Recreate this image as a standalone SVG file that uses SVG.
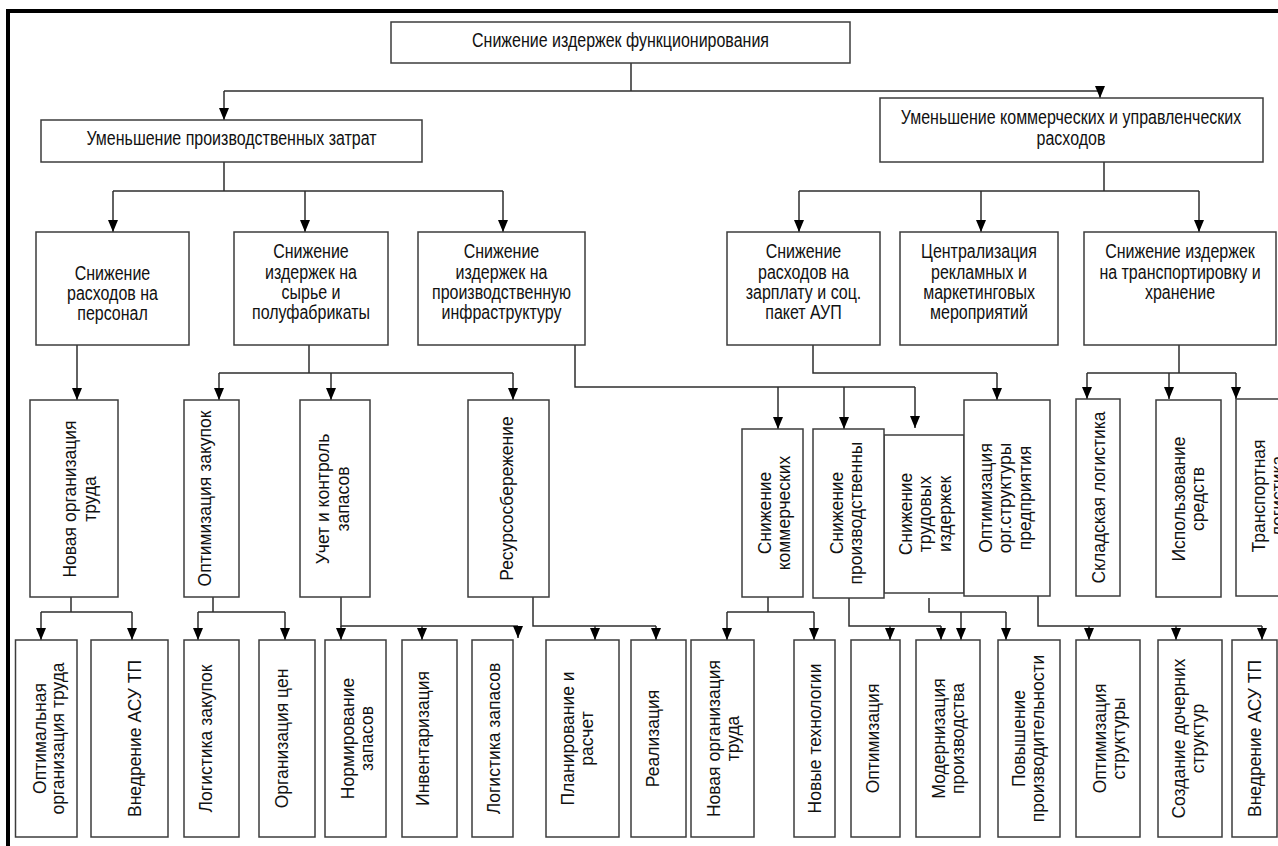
<svg xmlns="http://www.w3.org/2000/svg" width="1278" height="846" viewBox="0 0 1278 846">
  <style>
    .box { fill: #ffffff; stroke: #3c3c3c; stroke-width: 1.5; }
    .wire { fill: none; stroke: #2e2e2e; stroke-width: 1.5; }
    .arr { fill: none; stroke: #2e2e2e; stroke-width: 1.5; marker-end: url(#tip); }
    .h { font-family: "Liberation Sans", Arial, sans-serif; font-size: 19.5px; fill: #111111; text-anchor: middle; }
    .v { font-family: "Liberation Sans", Arial, sans-serif; font-size: 17.5px; fill: #111111; text-anchor: middle; }
  </style>
  <defs>
    <marker id="tip" viewBox="0 0 12 10" refX="12" refY="5" markerWidth="12" markerHeight="10" markerUnits="userSpaceOnUse" orient="auto">
      <path d="M0,0 L12,5 L0,10 Z" fill="#000000"/>
    </marker>
  </defs>
  <rect width="1278" height="846" fill="#ffffff"/>
  <!-- outer frame (top and left edges) -->
  <path d="M8,846 V11 H1278" fill="none" stroke="#000000" stroke-width="4"/>

  <g id="connectors">
    <!-- root to level 1 -->
    <path class="wire" d="M631,63 V91 M224,91 H1100"/>
    <path class="arr" d="M224,91 V120"/>
    <path class="arr" d="M1100,91 V98"/>
    <!-- production costs branch -->
    <path class="wire" d="M224,162 V191 M113,191 H503"/>
    <path class="arr" d="M113,191 V232"/>
    <path class="arr" d="M305,191 V232"/>
    <path class="arr" d="M503,191 V232"/>
    <!-- commercial costs branch -->
    <path class="wire" d="M1104,162 V191 M799,191 H1199"/>
    <path class="arr" d="M799,191 V232"/>
    <path class="arr" d="M981,191 V232"/>
    <path class="arr" d="M1199,191 V232"/>
    <!-- level 2 to level 3 -->
    <path class="arr" d="M77,345 V400"/>
    <path class="wire" d="M309,345 V373 M219,373 H513"/>
    <path class="arr" d="M219,373 V400"/>
    <path class="arr" d="M331,373 V400"/>
    <path class="arr" d="M513,373 V400"/>
    <path class="wire" d="M575,345 V387 H915"/>
    <path class="arr" d="M778,387 V429"/>
    <path class="arr" d="M844,387 V429"/>
    <path class="arr" d="M915,387 V428"/>
    <path class="wire" d="M813,345 V373 H997"/>
    <path class="arr" d="M997,373 V400"/>
    <path class="wire" d="M1179,345 V373 M1087,373 H1236"/>
    <path class="arr" d="M1087,373 V399"/>
    <path class="arr" d="M1169,373 V399"/>
    <path class="arr" d="M1236,373 V399"/>
    <!-- level 3 to level 4 -->
    <path class="wire" d="M71,597 V612 M41,612 H132"/>
    <path class="arr" d="M41,612 V640"/>
    <path class="arr" d="M132,612 V640"/>
    <path class="wire" d="M213,597 V612 M198,612 H285"/>
    <path class="arr" d="M198,612 V640"/>
    <path class="arr" d="M285,612 V640"/>
    <path class="wire" d="M341,597 V626 H518"/>
    <path class="arr" d="M341,626 V640"/>
    <path class="arr" d="M422,626 V640"/>
    <path class="arr" d="M518,626 V638"/>
    <path class="wire" d="M533,597 V626 H656"/>
    <path class="arr" d="M595,626 V640"/>
    <path class="arr" d="M656,626 V640"/>
    <path class="wire" d="M768,597 V612 M727,612 H814"/>
    <path class="arr" d="M727,612 V640"/>
    <path class="arr" d="M814,612 V640"/>
    <path class="wire" d="M849,598 V626 H941"/>
    <path class="arr" d="M890,626 V640"/>
    <path class="arr" d="M941,626 V640"/>
    <path class="wire" d="M929,598 V612 H1006"/>
    <path class="arr" d="M961,612 V640"/>
    <path class="arr" d="M1006,612 V640"/>
    <path class="wire" d="M1038,596 V626 H1262"/>
    <path class="arr" d="M1089,626 V640"/>
    <path class="arr" d="M1176,626 V640"/>
    <path class="arr" d="M1262,626 V640"/>
  </g>

  <!-- level 0 -->
  <g id="n-root">
    <rect class="box" x="391" y="22" width="459" height="41"/>
    <text class="h" transform="translate(620.5 0) scale(0.82 1)"><tspan x="0" y="47.5">Снижение издержек функционирования</tspan></text>
  </g>

  <!-- level 1 -->
  <g id="n-production">
    <rect class="box" x="41" y="120" width="381" height="42"/>
    <text class="h" transform="translate(231.5 0) scale(0.82 1)"><tspan x="0" y="145.5">Уменьшение производственных затрат</tspan></text>
  </g>
  <g id="n-commercial">
    <rect class="box" x="880" y="98" width="383" height="64"/>
    <text class="h" transform="translate(1071 0) scale(0.82 1)"><tspan x="0" y="124">Уменьшение коммерческих и управленческих</tspan><tspan x="0" y="145">расходов</tspan></text>
  </g>

  <!-- level 2 -->
  <g id="n-staff">
    <rect class="box" x="36" y="232" width="153" height="113"/>
    <text class="h" transform="translate(112.5 0) scale(0.82 1)"><tspan x="0" y="280">Снижение</tspan><tspan x="0" y="300">расходов на</tspan><tspan x="0" y="320">персонал</tspan></text>
  </g>
  <g id="n-materials">
    <rect class="box" x="234" y="232" width="154" height="113"/>
    <text class="h" transform="translate(311 0) scale(0.82 1)"><tspan x="0" y="258.5">Снижение</tspan><tspan x="0" y="279">издержек на</tspan><tspan x="0" y="299">сырье и</tspan><tspan x="0" y="319.5">полуфабрикаты</tspan></text>
  </g>
  <g id="n-infrastructure">
    <rect class="box" x="418" y="232" width="167" height="113"/>
    <text class="h" transform="translate(501.5 0) scale(0.82 1)"><tspan x="0" y="258.5">Снижение</tspan><tspan x="0" y="279">издержек на</tspan><tspan x="0" y="299">производственную</tspan><tspan x="0" y="319.5">инфраструктуру</tspan></text>
  </g>
  <g id="n-salary">
    <rect class="box" x="727" y="232" width="153" height="113"/>
    <text class="h" transform="translate(803.5 0) scale(0.82 1)"><tspan x="0" y="258.5">Снижение</tspan><tspan x="0" y="279">расходов на</tspan><tspan x="0" y="299">зарплату и соц.</tspan><tspan x="0" y="319.5">пакет АУП</tspan></text>
  </g>
  <g id="n-marketing">
    <rect class="box" x="900" y="232" width="158" height="113"/>
    <text class="h" transform="translate(979 0) scale(0.82 1)"><tspan x="0" y="258.5">Централизация</tspan><tspan x="0" y="279">рекламных и</tspan><tspan x="0" y="299">маркетинговых</tspan><tspan x="0" y="319.5">мероприятий</tspan></text>
  </g>
  <g id="n-transport">
    <rect class="box" x="1084" y="232" width="192" height="113"/>
    <text class="h" transform="translate(1180 0) scale(0.82 1)"><tspan x="0" y="258.5">Снижение издержек</tspan><tspan x="0" y="279">на транспортировку и</tspan><tspan x="0" y="299">хранение</tspan></text>
  </g>

  <!-- level 3 -->
  <g id="n-labor-org">
    <rect class="box" x="30" y="400" width="88" height="197"/>
    <text class="v" transform="translate(75.5 499) rotate(-90)"><tspan x="0" y="0">Новая организация</tspan><tspan x="0" y="20">труда</tspan></text>
  </g>
  <g id="n-purchasing">
    <rect class="box" x="184" y="400" width="55" height="197"/>
    <text class="v" transform="translate(211 498.5) rotate(-90)"><tspan x="0" y="0">Оптимизация закупок</tspan></text>
  </g>
  <g id="n-stock-control">
    <rect class="box" x="300" y="400" width="70" height="197"/>
    <text class="v" transform="translate(328.5 499) rotate(-90)"><tspan x="0" y="0">Учет и контроль</tspan><tspan x="0" y="20">запасов</tspan></text>
  </g>
  <g id="n-resource-saving">
    <rect class="box" x="468" y="400" width="81" height="197"/>
    <text class="v" transform="translate(512.5 498.5) rotate(-90)"><tspan x="0" y="0">Ресурсосбережение</tspan></text>
  </g>
  <g id="n-commercial-cut">
    <rect class="box" x="742" y="429" width="61" height="168"/>
    <text class="v" transform="translate(770.5 513) rotate(-90)"><tspan x="0" y="0">Снижение</tspan><tspan x="0" y="19.5">коммерческих</tspan></text>
  </g>
  <g id="n-labor-cut">
    <rect class="box" x="884" y="435" width="80" height="158"/>
    <text class="v" transform="translate(911.5 514) rotate(-90)"><tspan x="0" y="0">Снижение</tspan><tspan x="0" y="19.5">трудовых</tspan><tspan x="0" y="39">издержек</tspan></text>
  </g>
  <g id="n-production-cut">
    <rect class="box" x="813" y="429" width="71" height="169"/>
    <text class="v" transform="translate(842.5 513) rotate(-90)"><tspan x="0" y="0">Снижение</tspan><tspan x="0" y="19.5">производственны</tspan></text>
  </g>
  <g id="n-org-structure">
    <rect class="box" x="964" y="400" width="86" height="196"/>
    <text class="v" transform="translate(991.5 498) rotate(-90)"><tspan x="0" y="0">Оптимизация</tspan><tspan x="0" y="19.5">орг.структуры</tspan><tspan x="0" y="39.5">предприятия</tspan></text>
  </g>
  <g id="n-warehouse">
    <rect class="box" x="1076" y="399" width="44" height="197"/>
    <text class="v" transform="translate(1104.5 497.5) rotate(-90)"><tspan x="0" y="0">Складская логистика</tspan></text>
  </g>
  <g id="n-funds">
    <rect class="box" x="1156" y="400" width="65" height="197"/>
    <text class="v" transform="translate(1184.5 499) rotate(-90)"><tspan x="0" y="0">Использование</tspan><tspan x="0" y="19">средств</tspan></text>
  </g>
  <g id="n-transport-logistics">
    <rect class="box" x="1236" y="399" width="70" height="197"/>
    <text class="v" transform="translate(1264.5 496) rotate(-90)"><tspan x="0" y="0">Транспортная</tspan><tspan x="0" y="19.5">логистика</tspan></text>
  </g>

  <!-- level 4 -->
  <g id="n-optimal-labor">
    <rect class="box" x="15.5" y="640" width="61.5" height="197"/>
    <text class="v" transform="translate(45.5 738.5) rotate(-90)"><tspan x="0" y="0">Оптимальная</tspan><tspan x="0" y="18.5">организация труда</tspan></text>
  </g>
  <g id="n-acs-1">
    <rect class="box" x="91" y="640" width="77" height="197"/>
    <text class="v" transform="translate(141 738.5) rotate(-90)"><tspan x="0" y="0">Внедрение АСУ ТП</tspan></text>
  </g>
  <g id="n-purchase-logistics">
    <rect class="box" x="184" y="640" width="55" height="197"/>
    <text class="v" transform="translate(211.5 738.5) rotate(-90)"><tspan x="0" y="0">Логистика закупок</tspan></text>
  </g>
  <g id="n-pricing">
    <rect class="box" x="259" y="640" width="56" height="197"/>
    <text class="v" transform="translate(288 738.5) rotate(-90)"><tspan x="0" y="0">Организация цен</tspan></text>
  </g>
  <g id="n-stock-norms">
    <rect class="box" x="325" y="640" width="61" height="197"/>
    <text class="v" transform="translate(353.5 738.5) rotate(-90)"><tspan x="0" y="0">Нормирование</tspan><tspan x="0" y="19.5">запасов</tspan></text>
  </g>
  <g id="n-inventory">
    <rect class="box" x="402" y="640" width="55" height="197"/>
    <text class="v" transform="translate(428.5 738.5) rotate(-90)"><tspan x="0" y="0">Инвентаризация</tspan></text>
  </g>
  <g id="n-stock-logistics">
    <rect class="box" x="472" y="640" width="41" height="197"/>
    <text class="v" transform="translate(500 738.5) rotate(-90)"><tspan x="0" y="0">Логистика запасов</tspan></text>
  </g>
  <g id="n-planning">
    <rect class="box" x="546" y="640" width="73" height="197"/>
    <text class="v" transform="translate(573.5 738.5) rotate(-90)"><tspan x="0" y="0">Планирование и</tspan><tspan x="0" y="19.5">расчет</tspan></text>
  </g>
  <g id="n-sales">
    <rect class="box" x="631" y="640" width="55" height="197"/>
    <text class="v" transform="translate(658.5 738.5) rotate(-90)"><tspan x="0" y="0">Реализация</tspan></text>
  </g>
  <g id="n-labor-org-2">
    <rect class="box" x="691" y="640" width="63" height="197"/>
    <text class="v" transform="translate(719.5 738.5) rotate(-90)"><tspan x="0" y="0">Новая организация</tspan><tspan x="0" y="19.5">труда</tspan></text>
  </g>
  <g id="n-new-tech">
    <rect class="box" x="794" y="640" width="41" height="197"/>
    <text class="v" transform="translate(820.5 738.5) rotate(-90)"><tspan x="0" y="0">Новые технологии</tspan></text>
  </g>
  <g id="n-optimization">
    <rect class="box" x="851" y="640" width="49" height="197"/>
    <text class="v" transform="translate(879 738.5) rotate(-90)"><tspan x="0" y="0">Оптимизация</tspan></text>
  </g>
  <g id="n-modernization">
    <rect class="box" x="916" y="640" width="64" height="197"/>
    <text class="v" transform="translate(944.5 738.5) rotate(-90)"><tspan x="0" y="0">Модернизация</tspan><tspan x="0" y="19.5">производства</tspan></text>
  </g>
  <g id="n-productivity">
    <rect class="box" x="998" y="640" width="62" height="197"/>
    <text class="v" transform="translate(1024.5 738.5) rotate(-90)"><tspan x="0" y="0">Повышение</tspan><tspan x="0" y="19.5">производительности</tspan></text>
  </g>
  <g id="n-structure-opt">
    <rect class="box" x="1076" y="640" width="64" height="197"/>
    <text class="v" transform="translate(1105.5 738.5) rotate(-90)"><tspan x="0" y="0">Оптимизация</tspan><tspan x="0" y="19.5">структуры</tspan></text>
  </g>
  <g id="n-subsidiaries">
    <rect class="box" x="1158" y="640" width="64" height="197"/>
    <text class="v" transform="translate(1185 738.5) rotate(-90)"><tspan x="0" y="0">Создание дочерних</tspan><tspan x="0" y="19">структур</tspan></text>
  </g>
  <g id="n-acs-2">
    <rect class="box" x="1232" y="640" width="45" height="197"/>
    <text class="v" transform="translate(1260.5 738.5) rotate(-90)"><tspan x="0" y="0">Внедрение АСУ ТП</tspan></text>
  </g>
</svg>
